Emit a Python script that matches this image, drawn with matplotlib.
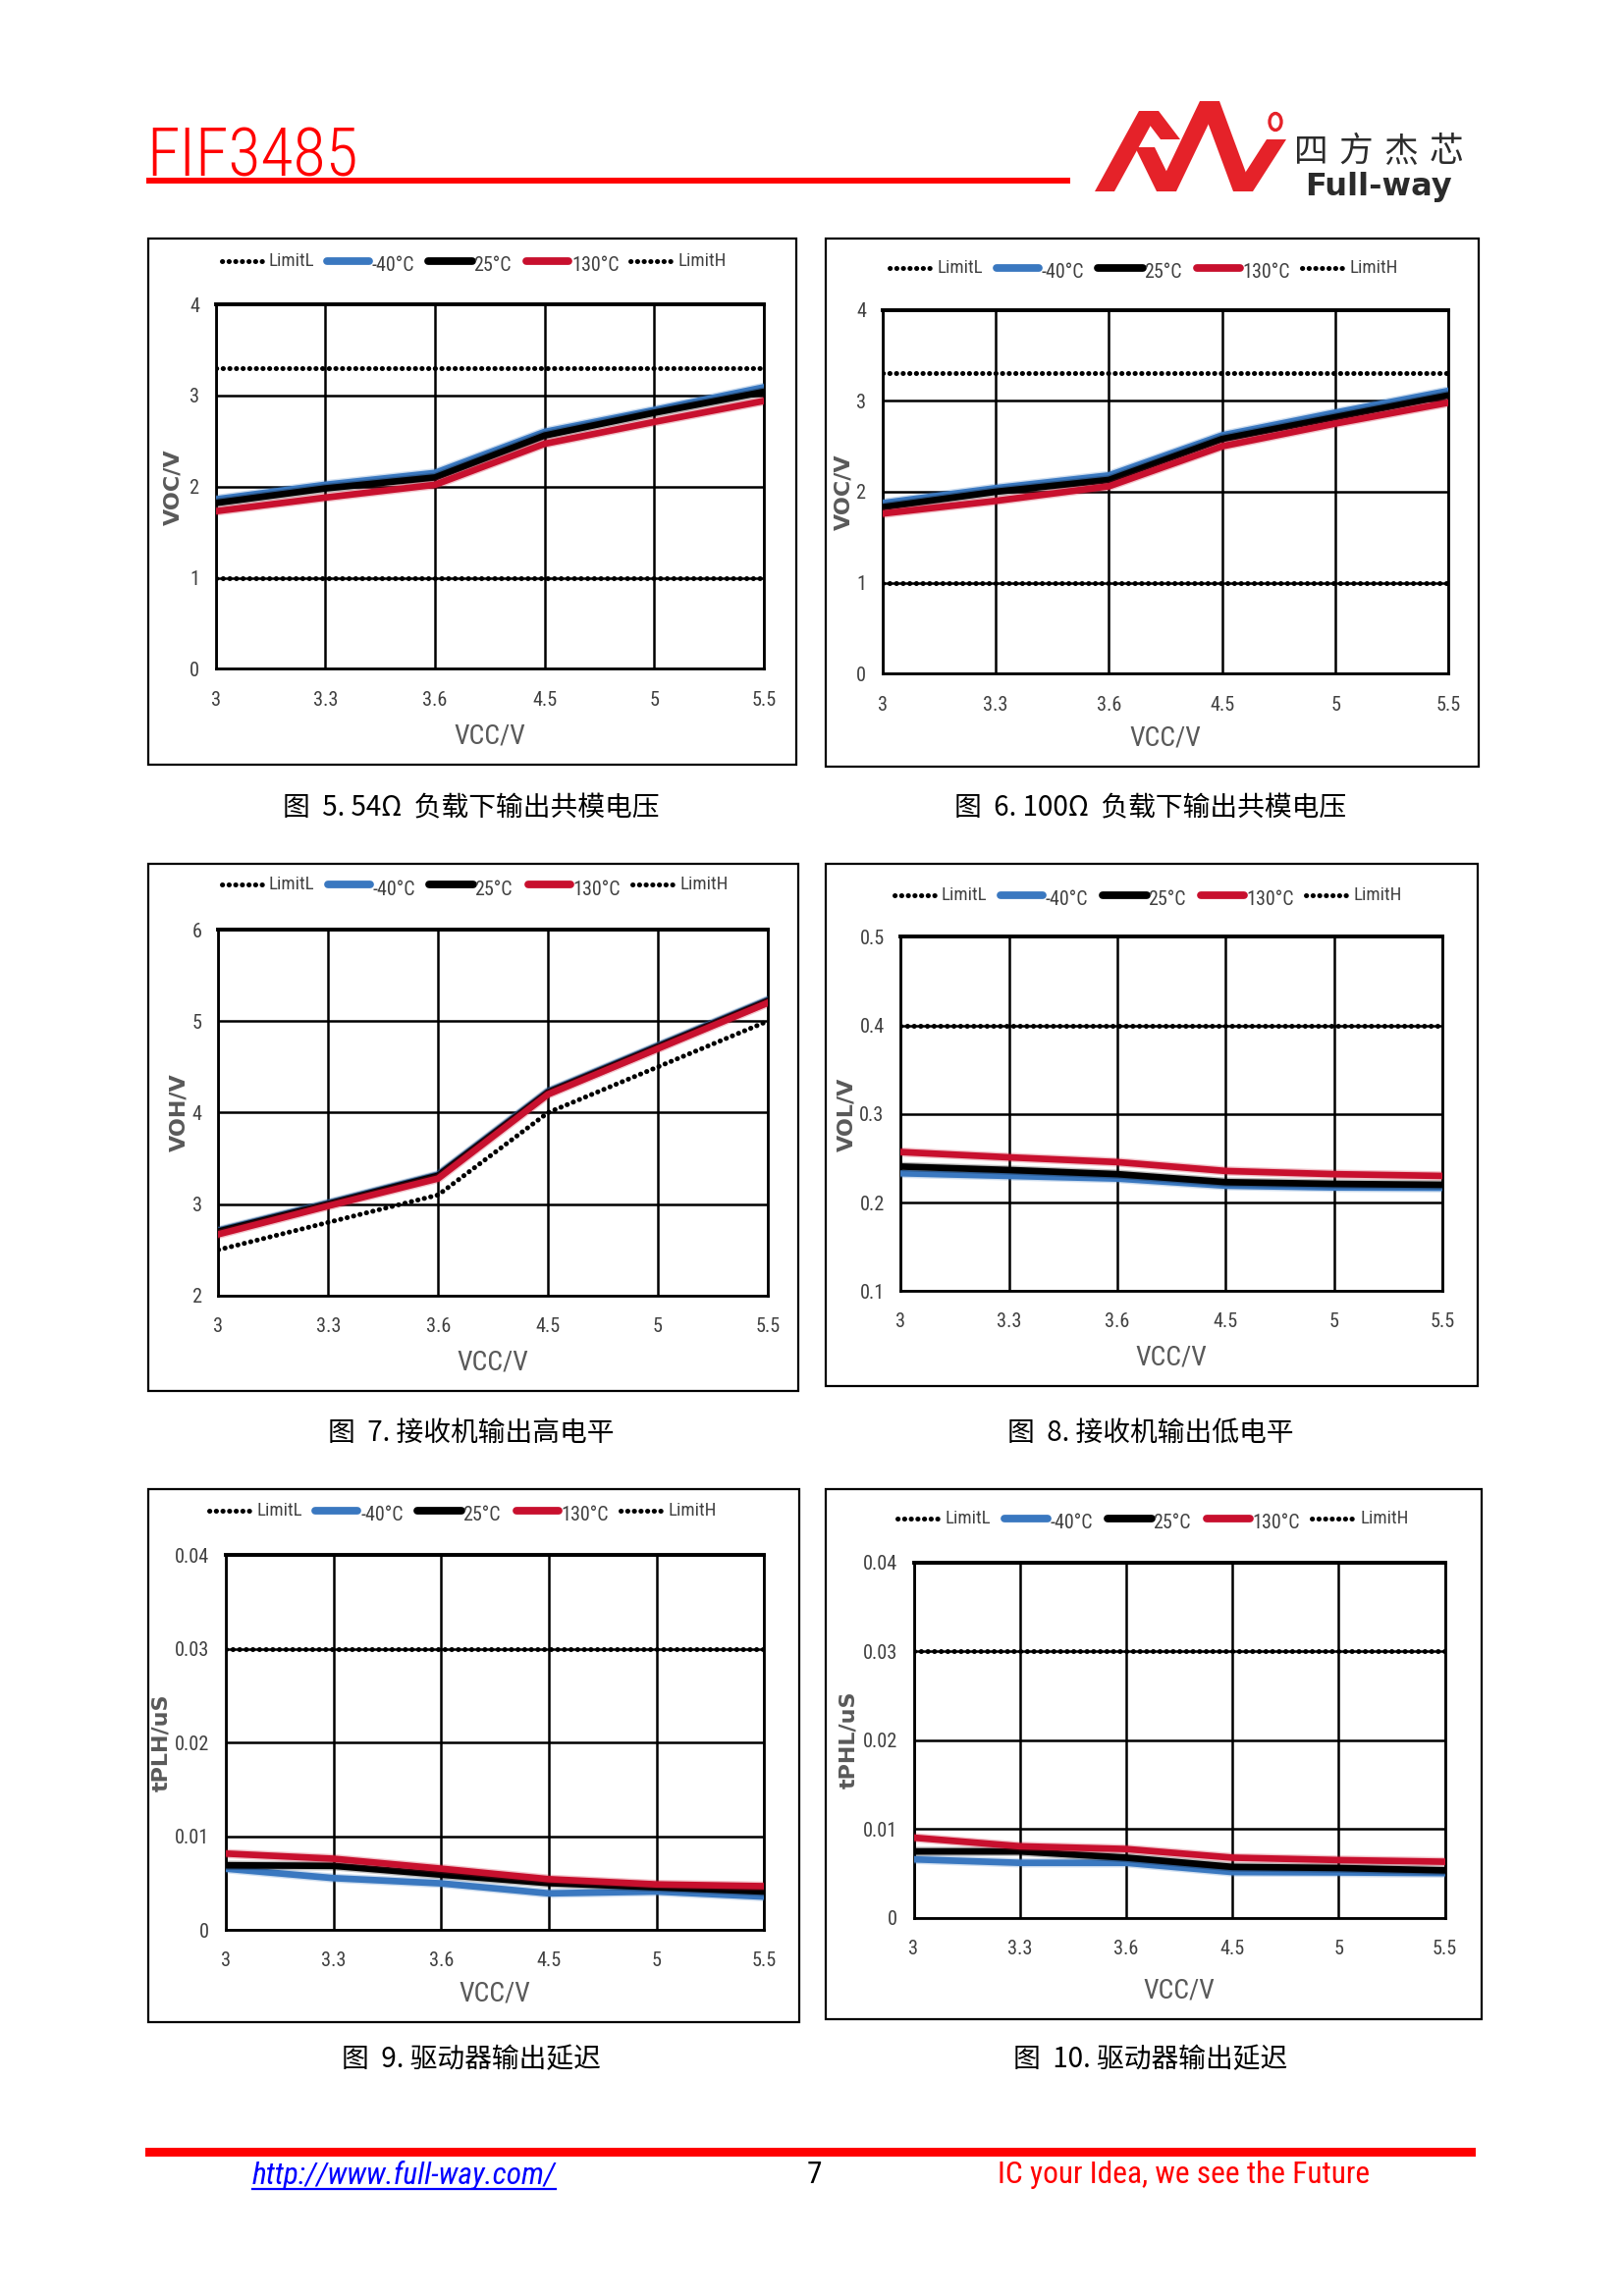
import matplotlib
matplotlib.use("Agg")
import matplotlib.pyplot as plt
import matplotlib.patheffects as pe
from matplotlib import font_manager
from matplotlib.lines import Line2D
from matplotlib.patches import Rectangle, Polygon, Circle

W, H = 1654, 2339
DPI = 200

# ---- data ------------------------------------------------------------------
vcc_labels = ["3", "3.3", "3.6", "4.5", "5", "5.5"]

# Fig 5: VOC, 54 ohm load
fig5_m40 = [1.86, 2.02, 2.15, 2.60, 2.84, 3.09]
fig5_25 = [1.82, 1.98, 2.10, 2.56, 2.81, 3.04]
fig5_130 = [1.73, 1.88, 2.02, 2.47, 2.71, 2.94]
fig5_limit_l = [1.0, 1.0, 1.0, 1.0, 1.0, 1.0]
fig5_limit_h = [3.3, 3.3, 3.3, 3.3, 3.3, 3.3]

# Fig 6: VOC, 100 ohm load
fig6_m40 = [1.875, 2.04, 2.18, 2.62, 2.87, 3.11]
fig6_25 = [1.83, 2.00, 2.13, 2.58, 2.82, 3.06]
fig6_130 = [1.76, 1.90, 2.06, 2.50, 2.75, 2.98]
fig6_limit_l = [1.0, 1.0, 1.0, 1.0, 1.0, 1.0]
fig6_limit_h = [3.3, 3.3, 3.3, 3.3, 3.3, 3.3]

# Fig 7: receiver VOH
fig7_m40 = [2.71, 3.01, 3.32, 4.23, 4.73, 5.23]
fig7_25 = [2.70, 3.00, 3.31, 4.22, 4.72, 5.22]
fig7_130 = [2.67, 2.98, 3.28, 4.20, 4.70, 5.20]
fig7_limit_l = [2.5, 2.8, 3.1, 4.0, 4.5, 5.0]

# Fig 8: receiver VOL
fig8_m40 = [0.233, 0.230, 0.227, 0.219, 0.217, 0.2166]
fig8_25 = [0.2406, 0.2367, 0.232, 0.223, 0.221, 0.220]
fig8_130 = [0.257, 0.251, 0.2456, 0.2356, 0.232, 0.230]
fig8_limit_h = [0.4, 0.4, 0.4, 0.4, 0.4, 0.4]

# Fig 9: driver tPLH
fig9_m40 = [0.00654, 0.00553, 0.00497, 0.0039, 0.0041, 0.00355]
fig9_25 = [0.0069, 0.00684, 0.0059, 0.0050, 0.00456, 0.0041]
fig9_130 = [0.00815, 0.0076, 0.00654, 0.00542, 0.00486, 0.00467]
fig9_limit_h = [0.03, 0.03, 0.03, 0.03, 0.03, 0.03]

# Fig 10: driver tPHL
fig10_m40 = [0.00659, 0.0062, 0.0062, 0.00516, 0.00512, 0.00504]
fig10_25 = [0.00748, 0.00748, 0.00678, 0.00574, 0.00562, 0.00535]
fig10_130 = [0.00903, 0.00806, 0.00775, 0.00678, 0.00651, 0.00632]
fig10_limit_h = [0.03, 0.03, 0.03, 0.03, 0.03, 0.03]

temp_labels = ["-40\u00b0C", "25\u00b0C", "130\u00b0C"]
temp_colors = ["#3a78c0", "#000000", "#c8102e"]

# ---- fonts -----------------------------------------------------------------
available = {f.name for f in font_manager.fontManager.ttflist}
narrow = next((n for n in ["Liberation Sans Narrow", "Roboto Condensed",
                           "Liberation Sans"] if n in available), "DejaVu Sans")
NARROW = [narrow, "DejaVu Sans"]
CJK = ["Noto Sans CJK SC", "DejaVu Sans"]
GRAY = "#404040"
LABEL_GRAY = "#595959"

fig = plt.figure(figsize=(W / DPI, H / DPI), dpi=DPI)
fig.patch.set_facecolor("white")


def fx(x):
    return x / W


def fy(y):
    return 1 - y / H


def frect(x0, y0, x1, y1, **kw):
    fig.add_artist(Rectangle((fx(x0), fy(y1)), (x1 - x0) / W, (y1 - y0) / H,
                             transform=fig.transFigure, **kw))


def fline(xs, ys, **kw):
    fig.add_artist(Line2D([fx(x) for x in xs], [fy(y) for y in ys],
                          transform=fig.transFigure, **kw))


DOT = dict(color="black", lw=1.8, linestyle=(0, (0.05, 1.3)),
           dash_capstyle="round")


def draw_chart(spec, series, limits):
    x0, y0, x1, y1 = spec["box"]
    bw, bh = x1 - x0, y1 - y0
    frect(x0, y0, x1, y1, fill=False, ec="black", lw=0.8)

    l, r, t, b = spec["plot"]
    px0, px1 = x0 + l * bw, x0 + r * bw
    py0, py1 = y0 + t * bh, y0 + b * bh
    ax = fig.add_axes([fx(px0), fy(py1), (px1 - px0) / W, (py1 - py0) / H])
    xs = list(range(len(vcc_labels)))

    for vals in limits:
        ax.plot(xs, vals, zorder=3, **DOT)
    for vals, color in zip(series, temp_colors):
        ax.plot(xs, vals, color=color, lw=2.4, zorder=4,
                solid_joinstyle="round",
                path_effects=[pe.Stroke(linewidth=3.4, foreground=color,
                                        alpha=0.25), pe.Normal()])

    ax.set_xlim(0, len(vcc_labels) - 1)
    ax.set_ylim(*spec["ylim"])
    ax.set_xticks(xs)
    ax.set_xticklabels(vcc_labels)
    ax.set_yticks(spec["yticks"])
    ax.set_yticklabels(spec["yticklabels"])
    ax.grid(True, color="black", lw=0.9)
    ax.set_axisbelow(True)
    for side, sp in ax.spines.items():
        sp.set_color("black")
        sp.set_linewidth(1.4 if side == "top" else 1.0)
    ax.tick_params(length=0, labelsize=7.3, labelcolor=GRAY)
    ax.tick_params(axis="x", pad=8)
    ax.tick_params(axis="y", pad=6)
    for lab in ax.get_xticklabels() + ax.get_yticklabels():
        lab.set_family(NARROW)

    # axis titles
    fig.text(fx((px0 + px1) / 2), fy(y1 - 29), "VCC/V", ha="center",
             va="center", fontsize=10, color=LABEL_GRAY, family=NARROW)
    fig.text(fx(x0 + spec["ylab_dx"]), fy((py0 + py1) / 2), spec["ylabel"],
             ha="center", va="center", rotation=90, fontsize=8,
             fontweight="bold", color=LABEL_GRAY, family=["DejaVu Sans"])

    # legend row
    ly = y0 + spec["leg_y"] * bh
    lx = x0 + spec["leg_x"] * bw
    entries = [("LimitL", None, 0.0, 0.065, 0.072),
               (temp_labels[0], temp_colors[0], 0.163, 0.228, 0.232),
               (temp_labels[1], temp_colors[1], 0.319, 0.387, 0.389),
               (temp_labels[2], temp_colors[2], 0.471, 0.536, 0.540),
               ("LimitH", None, 0.631, 0.696, 0.705)]
    for text, color, s0, s1, tx in entries:
        xa, xb = lx + s0 * bw, lx + s1 * bw
        if color is None:
            fline([xa, xb], [ly, ly], **DOT)
            fig.text(fx(lx + tx * bw), fy(ly), text, ha="left", va="center",
                     fontsize=6.8, color=GRAY, family=NARROW)
        else:
            fline([xa, xb], [ly, ly], color=color, lw=2.8,
                  solid_capstyle="round")
            fig.text(fx(lx + tx * bw), fy(ly + 5), text, ha="left",
                     va="center", fontsize=7.2, color=GRAY, family=NARROW)

    cx, cy = spec["caption_xy"]
    fig.text(fx(cx), fy(cy), spec["caption"], ha="center", va="center",
             fontsize=10, color="black", family=CJK)


charts = [
    dict(box=(151, 243, 811, 779), plot=(0.104, 0.950, 0.125, 0.818),
         leg_y=0.042, leg_x=0.113, ylab_dx=25, ylabel="VOC/V",
         ylim=(0, 4), yticks=[0, 1, 2, 3, 4],
         yticklabels=["0", "1", "2", "3", "4"],
         caption="图  5. 54Ω  负载下输出共模电压", caption_xy=(480, 823)),
    dict(box=(841, 243, 1506, 781), plot=(0.087, 0.954, 0.135, 0.824),
         leg_y=0.055, leg_x=0.098, ylab_dx=18, ylabel="VOC/V",
         ylim=(0, 4), yticks=[0, 1, 2, 3, 4],
         yticklabels=["0", "1", "2", "3", "4"],
         caption="图  6. 100Ω  负载下输出共模电压", caption_xy=(1172, 823)),
    dict(box=(151, 880, 813, 1417), plot=(0.108, 0.953, 0.125, 0.819),
         leg_y=0.040, leg_x=0.113, ylab_dx=31, ylabel="VOH/V",
         ylim=(2, 6), yticks=[2, 3, 4, 5, 6],
         yticklabels=["2", "3", "4", "5", "6"],
         caption="图  7. 接收机输出高电平", caption_xy=(480, 1460)),
    dict(box=(841, 880, 1505, 1412), plot=(0.115, 0.946, 0.140, 0.818),
         leg_y=0.060, leg_x=0.105, ylab_dx=21, ylabel="VOL/V",
         ylim=(0.1, 0.5), yticks=[0.1, 0.2, 0.3, 0.4, 0.5],
         yticklabels=["0.1", "0.2", "0.3", "0.4", "0.5"],
         caption="图  8. 接收机输出低电平", caption_xy=(1172, 1460)),
    dict(box=(151, 1517, 814, 2060), plot=(0.119, 0.946, 0.124, 0.827),
         leg_y=0.040, leg_x=0.094, ylab_dx=13, ylabel="tPLH/uS",
         ylim=(0, 0.04), yticks=[0, 0.01, 0.02, 0.03, 0.04],
         yticklabels=["0", "0.01", "0.02", "0.03", "0.04"],
         caption="图  9. 驱动器输出延迟", caption_xy=(480, 2098)),
    dict(box=(841, 1517, 1509, 2057), plot=(0.134, 0.944, 0.138, 0.809),
         leg_y=0.055, leg_x=0.110, ylab_dx=23, ylabel="tPHL/uS",
         ylim=(0, 0.04), yticks=[0, 0.01, 0.02, 0.03, 0.04],
         yticklabels=["0", "0.01", "0.02", "0.03", "0.04"],
         caption="图  10. 驱动器输出延迟", caption_xy=(1172, 2098)),
]

chart_series = [
    (fig5_m40, fig5_25, fig5_130),
    (fig6_m40, fig6_25, fig6_130),
    (fig7_m40, fig7_25, fig7_130),
    (fig8_m40, fig8_25, fig8_130),
    (fig9_m40, fig9_25, fig9_130),
    (fig10_m40, fig10_25, fig10_130),
]
chart_limits = [
    (fig5_limit_l, fig5_limit_h),
    (fig6_limit_l, fig6_limit_h),
    (fig7_limit_l,),
    (fig8_limit_h,),
    (fig9_limit_h,),
    (fig10_limit_h,),
]

for spec, series, limits in zip(charts, chart_series, chart_limits):
    draw_chart(spec, series, limits)

# ---- page header -----------------------------------------------------------
fig.text(fx(149), fy(179), "FIF3485", ha="left", va="baseline", fontsize=24.5,
         fontweight="light", color="#ff0000", family=NARROW)
frect(149, 181, 1090, 187, color="#ff0000", lw=0)

# logo: zig-zag strokes (bottom centre -> top centre, horizontal half width)
LOGO_RED = "#e52229"
strokes = [((1125, 195), (1170, 113)),
           ((1192, 142), (1170, 113)),
           ((1188, 195), (1166, 150)),
           ((1188, 195), (1232, 103)),
           ((1266, 195), (1232, 103)),
           ((1266, 195), (1300, 142))]
hw = 10
for (xb, yb), (xt, yt) in strokes:
    pts = [(fx(xb - hw), fy(yb)), (fx(xb + hw), fy(yb)),
           (fx(xt + hw), fy(yt)), (fx(xt - hw), fy(yt))]
    fig.add_artist(Polygon(pts, closed=True, transform=fig.transFigure,
                           color=LOGO_RED, lw=0))
fig.add_artist(Circle((fx(1299), fy(124)), 6 / W, transform=fig.transFigure,
                      fill=False, ec=LOGO_RED, lw=1.2))
for i, ch in enumerate("四方杰芯"):
    fig.text(fx(1335 + i * 46), fy(164), ch, ha="center", va="baseline",
             fontsize=12.5, color="#2b2b2b", family=CJK)
fig.text(fx(1404), fy(199), "Full-way", ha="center", va="baseline",
         fontsize=11.5, fontweight="bold", color="#2b2b2b",
         family=["DejaVu Sans"])

# ---- page footer -----------------------------------------------------------
frect(148, 2188, 1503, 2197, color="#ff0000", lw=0)
url = fig.text(fx(257), fy(2216), "http://www.full-way.com/", ha="left",
               va="center", fontsize=11.3, style="italic", color="#0000ff",
               family=NARROW)
fig.text(fx(829), fy(2216), "7", ha="center", va="center", fontsize=11.3,
         color="black", family=NARROW)
fig.text(fx(1016), fy(2216), "IC your Idea, we see the Future", ha="left",
         va="center", fontsize=11.3, color="#ff0000", family=NARROW)

# underline the link to the width of its rendered text
fig.canvas.draw()
bb = url.get_window_extent(renderer=fig.canvas.get_renderer())
fig.add_artist(Line2D([bb.x0 / W, bb.x1 / W],
                      [fy(2230), fy(2230)], transform=fig.transFigure,
                      color="#0000ff", lw=0.8))

fig.savefig("out.png", dpi=DPI)
